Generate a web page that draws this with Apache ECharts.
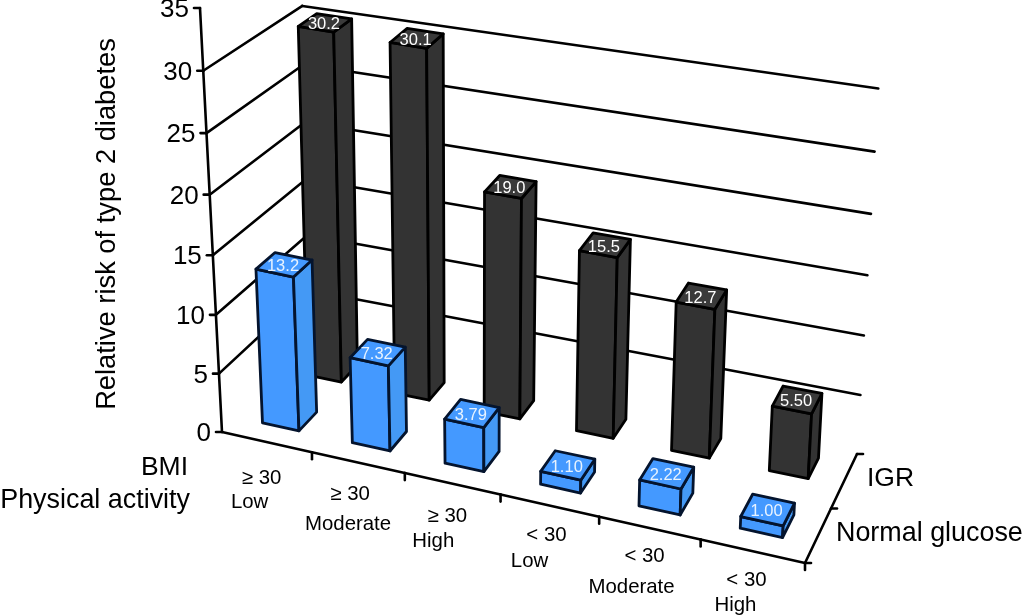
<!DOCTYPE html>
<html>
<head>
<meta charset="utf-8">
<style>
  html, body { margin: 0; background: #fff; }
  #chart { width: 1024px; height: 615px; }
</style>
</head>
<body>
<div id="chart"></div>
<script src="https://cdn.jsdelivr.net/npm/echarts@6/dist/echarts.min.js"></script>
<script>
const bmiLabels = ['≥ 30', '≥ 30', '≥ 30', '< 30', '< 30', '< 30'];
const activityLabels = ['Low', 'Moderate', 'High', 'Low', 'Moderate', 'High'];
const igrValues = [30.2, 30.1, 19.0, 15.5, 12.7, 5.50];
const normalValues = [13.2, 7.32, 3.79, 1.10, 2.22, 1.00];
const igrLabels = ['30.2', '30.1', '19.0', '15.5', '12.7', '5.50'];
const normalLabels = ['13.2', '7.32', '3.79', '1.10', '2.22', '1.00'];
const yTicks = [0, 5, 10, 15, 20, 25, 30, 35];

const FONT = '"Liberation Sans", Arial, sans-serif';

// the floor and the height of a full axis at the four corners of the box, in pixels
const floorFL = [222, 432], floorFR = [805, 563], floorBL = [310, 345], floorBR = [857, 454];
const riseFL = [-22, -424], riseFR = [24, -427], riseBL = [-9, -398], riseBR = [25, -429];
const bend = 0.012; // the old plot's height scale sags a little mid axis
const warp = 0.0148; // categories get wider towards the right

// label offsets under the front edge, per category
const bmiOffset = [[-5, 36], [-8, 32], [-5, 33], [-3, 30], [-5, 28], [-6, 29]];
const activityOffset = [[-17, 60], [-10, 62], [-19, 58], [-20, 56], [-18, 59], [-17, 54]];

function mix(a, b, t) {
  return [a[0] + (b[0] - a[0]) * t, a[1] + (b[1] - a[1]) * t];
}

// axis value -> pixel, goes through the hidden cartesian axes first
function project(api, u, depth, val) {
  const p = api.coord([u, val]);
  const o = api.coord([0, 0]);
  const e = api.coord([6, 35]);
  let s = (p[0] - o[0]) / (e[0] - o[0]);
  let t = (o[1] - p[1]) / (o[1] - e[1]);
  t = t - bend * Math.sin(Math.PI * t);
  const c = s * 6;
  s = (c + warp * c * (c - 6)) / 6;
  const floor = mix(mix(floorFL, floorFR, s), mix(floorBL, floorBR, s), depth);
  const rise = mix(mix(riseFL, riseFR, s), mix(riseBL, riseBR, s), depth);
  return [floor[0] + rise[0] * t, floor[1] + rise[1] * t];
}

function line(a, b, width) {
  return {
    type: 'line',
    shape: { x1: a[0], y1: a[1], x2: b[0], y2: b[1] },
    style: { stroke: '#000', lineWidth: width || 2.6, lineCap: 'round' }
  };
}

function barItem(depth0, depth1, shift, halfWidth, look) {
  return function (params, api) {
    const i = api.value(0);
    const h = api.value(1);
    const u0 = i + 0.5 + shift - halfWidth, u1 = i + 0.5 + shift + halfWidth;
    const fl0 = project(api, u0, depth0, 0), fr0 = project(api, u1, depth0, 0);
    const br0 = project(api, u1, depth1, 0);
    const fl1 = project(api, u0, depth0, h), fr1 = project(api, u1, depth0, h);
    const br1 = project(api, u1, depth1, h), bl1 = project(api, u0, depth1, h);
    const face = function (points, fill) {
      return {
        type: 'polygon',
        shape: { points: points },
        style: { fill: fill, stroke: look.edge, lineWidth: 2.8, lineJoin: 'round' }
      };
    };
    return {
      type: 'group',
      children: [
        face([fl0, fr0, fr1, fl1], look.front),
        face([fr0, br0, br1, fr1], look.side),
        face([fl1, fr1, br1, bl1], look.top),
        {
          type: 'text',
          style: {
            text: look.labels[i],
            x: (fl1[0] + br1[0]) / 2 - 1,
            y: (fl1[1] + br1[1]) / 2 + 2,
            fill: look.text,
            font: '16.5px ' + FONT,
            align: 'center',
            verticalAlign: 'middle'
          }
        }
      ]
    };
  };
}

function text(str, x, y, align, size) {
  return {
    type: 'text',
    x: x,
    y: y,
    style: {
      text: str,
      fill: '#000',
      font: size + 'px ' + FONT,
      align: align,
      verticalAlign: 'middle'
    }
  };
}

const myChart = echarts.init(document.getElementById('chart'));
myChart.setOption({
  animation: false,
  grid: { left: 0, right: 0, top: 0, bottom: 0 },
  xAxis: { type: 'value', min: 0, max: 6, show: false },
  yAxis: { type: 'value', min: 0, max: 35, show: false },
  graphic: [
    Object.assign(text('Relative risk of type 2 diabetes', 107, 224, 'center', 27.3), { rotation: Math.PI / 2 }),
    text('BMI', 188, 468, 'right', 26.5),
    text('Physical activity', 190, 501, 'right', 26.9),
    text('IGR', 867, 479, 'left', 26.5),
    text('Normal glucose', 836, 534, 'left', 26.9)
  ],
  series: [
    {
      // wall lines
      type: 'custom',
      silent: true,
      clip: false,
      data: yTicks.map(function (v) { return [0, v]; }),
      renderItem: function (params, api) {
        const v = api.value(1);
        if (v === 0 || v === 35) return;
        return {
          type: 'group',
          children: [
            line(project(api, 0, 0, v), project(api, 0, 1, v)),
            line(project(api, 0, 1, v), project(api, 6, 1, v))
          ]
        };
      }
    },
    {
      // value axis, ticks and labels
      type: 'custom',
      silent: true,
      clip: false,
      data: yTicks.map(function (v) { return [0, v]; }),
      renderItem: function (params, api) {
        const v = api.value(1);
        const p = project(api, 0, 0, v);
        const children = [
          line(p, [p[0] - 6, p[1]]),
          text(String(v), p[0] - 11, p[1] + 2, 'right', 26)
        ];
        if (v < 35) children.push(line(p, project(api, 0, 0, v + 5)));
        return { type: 'group', children: children };
      }
    },
    {
      // front edge with its ticks and category labels
      type: 'custom',
      silent: true,
      clip: false,
      data: bmiLabels.map(function (b, i) { return [i, 0]; }),
      renderItem: function (params, api) {
        const i = api.value(0);
        const a = project(api, i, 0, 0);
        const b = project(api, i + 1, 0, 0);
        const mid = project(api, i + 0.5, 0, 0);
        return {
          type: 'group',
          children: [
            line(a, b),
            line(b, [b[0], b[1] + 7]),
            text(bmiLabels[i], mid[0] + bmiOffset[i][0], mid[1] + bmiOffset[i][1], 'center', 20.4),
            text(activityLabels[i], mid[0] + activityOffset[i][0], mid[1] + activityOffset[i][1], 'center', 20.4)
          ]
        };
      }
    },
    {
      // side edge, one tick per row
      type: 'custom',
      silent: true,
      clip: false,
      data: [[6, 0]],
      renderItem: function (params, api) {
        const a = project(api, 6, 0, 0);
        const b = project(api, 6, 1, 0);
        const m = project(api, 6, 0.5, 0);
        return {
          type: 'group',
          children: [
            line(a, b),
            line(a, [a[0] + 6, a[1]]),
            line(m, [m[0] + 6, m[1]]),
            line(b, [b[0] + 6, b[1]])
          ]
        };
      }
    },
    {
      name: 'IGR',
      type: 'custom',
      silent: true,
      clip: false,
      data: igrValues.map(function (v, i) { return [i, v]; }),
      renderItem: barItem(0.71, 0.9, -0.03, 0.195, {
        front: '#333333', side: '#333333', top: '#3a3a3a', edge: '#000', text: '#fff', labels: igrLabels
      })
    },
    {
      name: 'Normal glucose',
      type: 'custom',
      silent: true,
      clip: false,
      data: normalValues.map(function (v, i) { return [i, v]; }),
      renderItem: barItem(0.17, 0.38, -0.005, 0.205, {
        front: '#4499ff', side: '#4499f5', top: '#4499ff', edge: '#04142e', text: '#e8f3ff', labels: normalLabels
      })
    }
  ]
});
</script>
</body>
</html>
